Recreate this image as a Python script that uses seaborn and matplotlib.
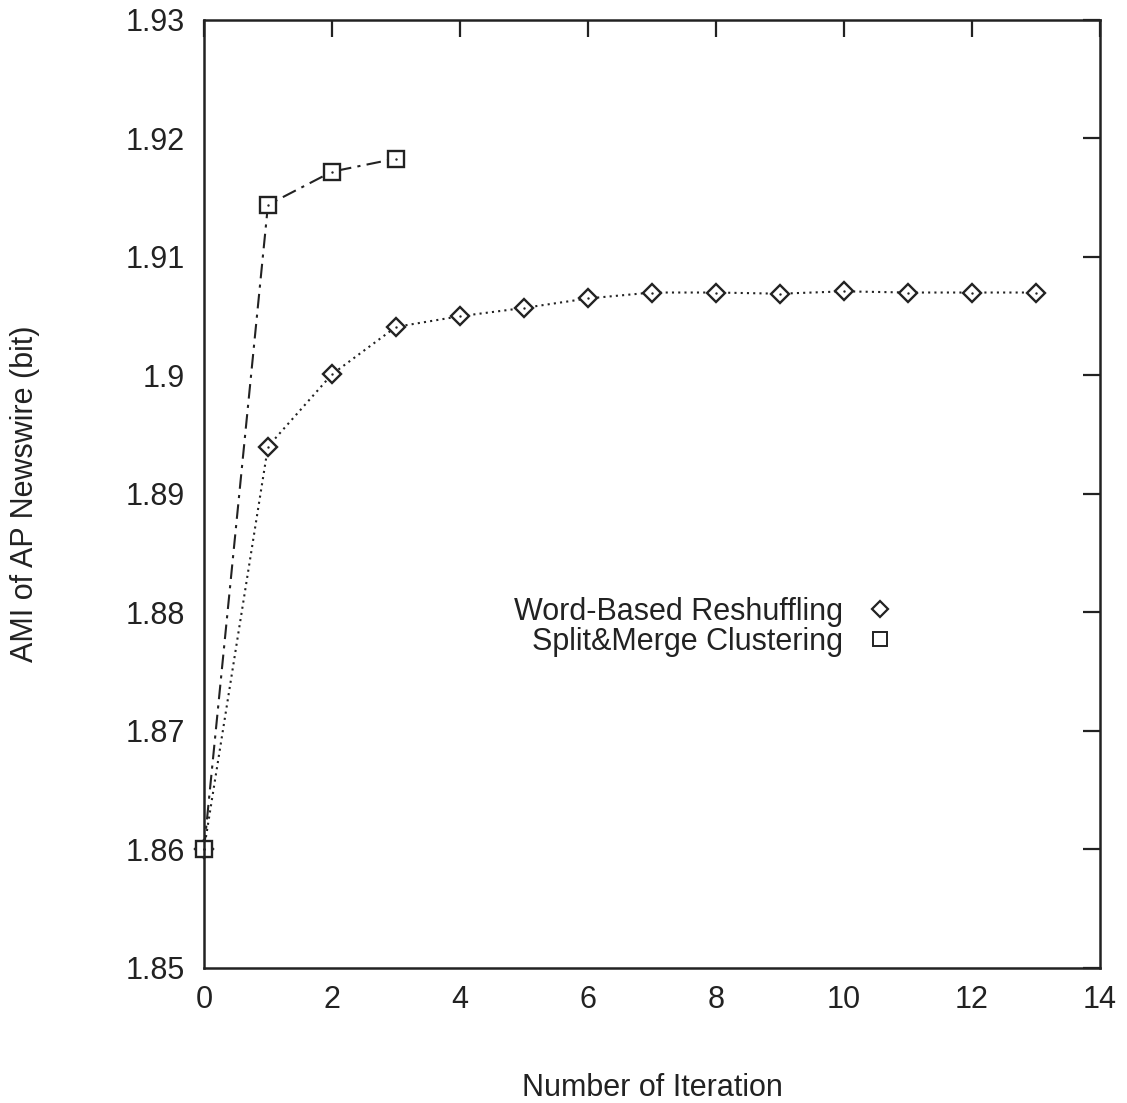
import matplotlib
matplotlib.use("Agg")
import matplotlib.pyplot as plt
from matplotlib.lines import Line2D
import seaborn as sns
import pandas as pd

iter_word = [0, 1, 2, 3, 4, 5, 6, 7, 8, 9, 10, 11, 12, 13]
ami_word = [1.8600, 1.8940, 1.9001, 1.9041, 1.9050, 1.9057, 1.9065, 1.9070,
            1.9070, 1.9069, 1.9071, 1.9070, 1.9070, 1.9070]
iter_split = [0, 1, 2, 3]
ami_split = [1.8600, 1.9144, 1.9172, 1.9183]

label_word = "Word-Based Reshuffling"
label_split = "Split&Merge Clustering"
xlabel = "Number of Iteration"
ylabel = "AMI of AP Newswire (bit)"
xticks = [0, 2, 4, 6, 8, 10, 12, 14]
yticks = [1.85, 1.86, 1.87, 1.88, 1.89, 1.90, 1.91, 1.92, 1.93]
ytick_labels = ["1.85", "1.86", "1.87", "1.88", "1.89", "1.9", "1.91", "1.92", "1.93"]

sns.set_theme(style="white")
plt.rcParams['font.family'] = ['Liberation Sans', 'DejaVu Sans']

ink = "#222222"
fs = 22
fig = plt.figure(figsize=(11.27, 11.03), dpi=100)
ax = fig.add_axes([0.181, 0.1224, 0.795, 0.8595])

df_w = pd.DataFrame({"x": iter_word, "y": ami_word})
df_s = pd.DataFrame({"x": iter_split, "y": ami_split})

sns.lineplot(data=df_w, x="x", y="y", ax=ax, color=ink, linestyle=(0, (1, 2)),
             linewidth=1.5, marker="D", markersize=9, markerfacecolor="white",
             markeredgecolor=ink, markeredgewidth=1.7)
sns.lineplot(data=df_s, x="x", y="y", ax=ax, color=ink, linestyle=(0, (7, 3, 1.5, 3)),
             linewidth=1.5, marker="s", markersize=11, markerfacecolor="white",
             markeredgecolor=ink, markeredgewidth=1.7)
# center dots of gnuplot-style points
sns.scatterplot(data=df_w, x="x", y="y", ax=ax, color=ink, s=3, linewidth=0, zorder=5)
sns.scatterplot(data=df_s, x="x", y="y", ax=ax, color=ink, s=3, linewidth=0, zorder=5)
for ln in ax.lines:
    ln.set_clip_on(False)
for c in ax.collections:
    c.set_clip_on(False)

ax.set_xlim(0, 14)
ax.set_ylim(1.85, 1.93)
ax.set_xticks(xticks)
ax.set_yticks(yticks)
ax.set_yticklabels(ytick_labels)
ax.tick_params(direction="in", top=True, right=True, length=12, width=1.6,
               labelsize=fs, colors=ink)
ax.tick_params(axis="y", pad=14)
ax.tick_params(axis="x", pad=12)
for s in ax.spines.values():
    s.set_color(ink)
    s.set_linewidth(1.8)

ax.set_xlabel(xlabel, fontsize=fs, color=ink)
ax.set_ylabel(ylabel, fontsize=fs, color=ink)
ax.xaxis.set_label_coords(0.5, -0.111)
ax.yaxis.set_label_coords(-0.183, 0.5)

handles = [
    Line2D([], [], linestyle="none", marker="D", markersize=8, markerfacecolor="white",
           markeredgecolor=ink, markeredgewidth=1.6),
    Line2D([], [], linestyle="none", marker="s", markersize=10, markerfacecolor="white",
           markeredgecolor=ink, markeredgewidth=1.4),
]
leg = ax.legend(handles, [label_word, label_split], loc="center right",
                bbox_to_anchor=(0.775, 0.360), frameon=False, markerfirst=False,
                fontsize=fs, handlelength=1.2, handletextpad=0.6, labelspacing=0.0,
                borderpad=0, borderaxespad=0)
for t in leg.get_texts():
    t.set_ha("right")
    t.set_color(ink)
leg._legend_box.align = "right"

fig.savefig("out.png", dpi=100, facecolor="white")
